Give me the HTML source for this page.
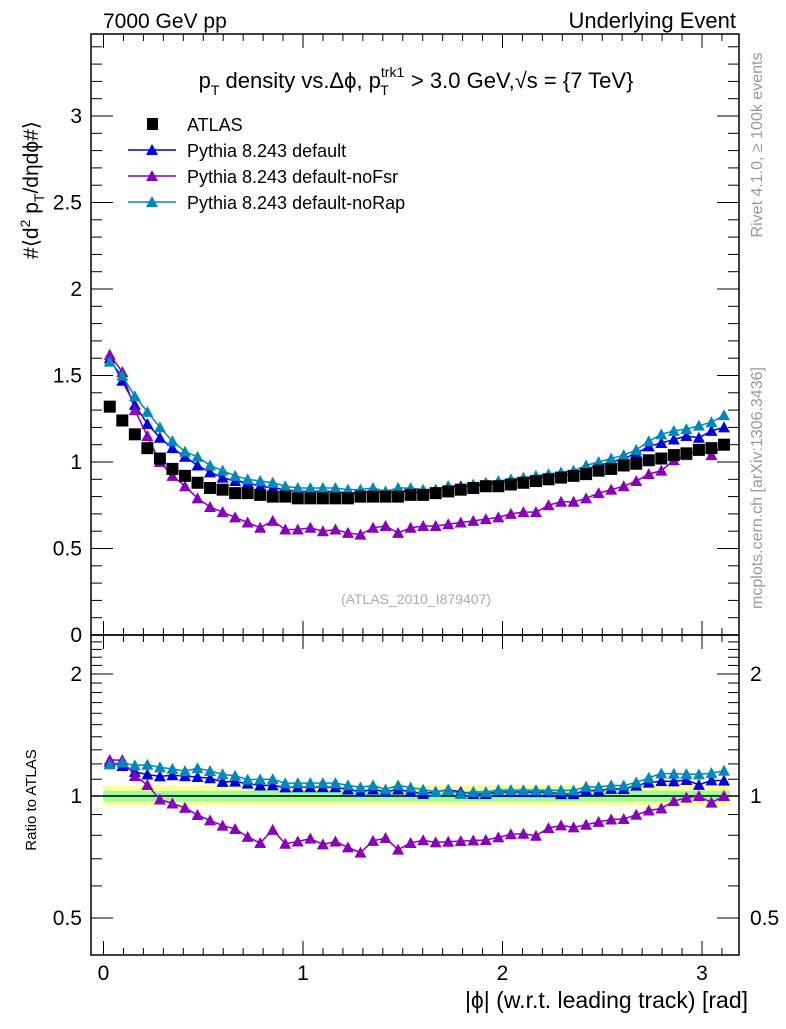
<!DOCTYPE html>
<html><head><meta charset="utf-8"><style>
body{margin:0;background:#fff;}
svg{font-family:"Liberation Sans",sans-serif;}
</style></head><body>
<svg id="c" width="786" height="1024" viewBox="0 0 786 1024" xmlns="http://www.w3.org/2000/svg">
<text x="103" y="28" font-size="21">7000 GeV pp</text>
<text x="736" y="28" font-size="22" text-anchor="end">Underlying Event</text>
<text x="416" y="88" font-size="22" text-anchor="middle">p<tspan font-size="14" dy="7">T</tspan><tspan dy="-7"> density vs.Δϕ, p</tspan><tspan font-size="14" dy="-11">trk1</tspan><tspan font-size="14" dx="-24" dy="18">T</tspan><tspan dx="16" dy="-7"> &gt; 3.0 GeV,√s = {7 TeV}</tspan></text>
<text transform="translate(38,190) rotate(-90)" font-size="21" text-anchor="middle">#⟨d<tspan font-size="14" dy="-8">2</tspan><tspan dy="8"> p</tspan><tspan font-size="14" dy="6">T</tspan><tspan dy="-6">/dηdϕ#⟩</tspan></text>
<text transform="translate(762,145) rotate(-90)" font-size="16" fill="#999" text-anchor="middle">Rivet 4.1.0, ≥ 100k events</text>
<text transform="translate(762,488) rotate(-90)" font-size="16" fill="#999" text-anchor="middle">mcplots.cern.ch [arXiv:1306.3436]</text>
<text x="416" y="604" font-size="14" fill="#aaa" text-anchor="middle">(ATLAS_2010_I879407)</text>
<text transform="translate(36,800) rotate(-90)" font-size="15" text-anchor="middle">Ratio to ATLAS</text>
<text x="748" y="1008" font-size="23" text-anchor="end">|ϕ| (w.r.t. leading track) [rad]</text>
<g id="g"></g>
</svg>
<script>
const atlas=[1.32,1.24,1.16,1.08,1.02,0.96,0.92,0.88,0.85,0.84,0.82,0.82,0.81,0.80,0.80,0.79,0.79,0.79,0.79,0.79,0.80,0.80,0.80,0.80,0.81,0.81,0.82,0.83,0.84,0.85,0.86,0.86,0.87,0.88,0.89,0.90,0.91,0.92,0.93,0.95,0.96,0.98,0.99,1.01,1.02,1.04,1.05,1.07,1.08,1.10];
const pyDefault=[1.60,1.47,1.33,1.22,1.14,1.08,1.03,0.98,0.94,0.91,0.89,0.88,0.86,0.85,0.84,0.83,0.83,0.83,0.83,0.82,0.82,0.83,0.82,0.83,0.83,0.82,0.84,0.86,0.86,0.86,0.87,0.88,0.89,0.90,0.91,0.92,0.92,0.93,0.96,0.98,1.00,1.02,1.05,1.09,1.11,1.13,1.15,1.14,1.18,1.20];
const pyNoFsr=[1.62,1.52,1.30,1.15,1.00,0.92,0.86,0.79,0.74,0.71,0.68,0.65,0.62,0.66,0.61,0.61,0.62,0.60,0.61,0.59,0.58,0.62,0.63,0.59,0.62,0.63,0.63,0.64,0.65,0.66,0.67,0.68,0.70,0.71,0.71,0.75,0.77,0.77,0.79,0.82,0.84,0.86,0.89,0.93,0.95,1.01,1.04,1.07,1.04,1.10];
const pyNoRap=[1.58,1.50,1.38,1.29,1.20,1.12,1.06,1.03,0.98,0.95,0.92,0.90,0.89,0.88,0.86,0.85,0.85,0.85,0.85,0.84,0.84,0.85,0.83,0.85,0.85,0.84,0.84,0.86,0.85,0.87,0.88,0.89,0.90,0.91,0.92,0.93,0.94,0.95,0.98,1.00,1.02,1.04,1.07,1.12,1.16,1.18,1.19,1.21,1.23,1.27];
const mainTicks=[0,0.5,1,1.5,2,2.5,3];
const ratioTicks=[0.5,1,2];
const xTicks=[0,1,2,3];
const NS="http://www.w3.org/2000/svg",g=document.getElementById('g');
const L=91,R=739,MT=34,MB=635,RB=955;
const X=v=>103.5+199.5*v, Y=v=>635-173*v, YR=v=>796-122*Math.log2(v);
function el(t,a,p){const e=document.createElementNS(NS,t);for(const k in a)e.setAttribute(k,a[k]);(p||g).appendChild(e);return e;}
const n=atlas.length, xs=atlas.map((_,i)=>(i+0.5)*Math.PI/n);
let b=el('rect',{x:L+12,y:YR(1.06),width:X(Math.PI)-L-12,height:YR(0.95)-YR(1.06),fill:'#ffff99'});

b=el('rect',{x:L+12,y:YR(1.03),width:X(Math.PI)-L-12,height:YR(0.97)-YR(1.03),fill:'#99ff99'});

let ln=el('line',{x1:L,x2:R,y1:YR(1),y2:YR(1),stroke:'#000','stroke-width':1.5});

let f=el('rect',{x:L,y:MT,width:R-L,height:MB-MT,fill:'none',stroke:'#000','stroke-width':1.5});

f=el('rect',{x:L,y:MB,width:R-L,height:RB-MB,fill:'none',stroke:'#000','stroke-width':1.5});

for(let v=0;v<=3.15;v+=0.1){const big=Math.abs(v-Math.round(v))<1e-6,len=big?14:7,x=X(v);
for(const [y0,d] of [[MT,1],[MB,-1],[MB,1],[RB,-1]])el('line',{x1:x,x2:x,y1:y0,y2:y0+d*len,stroke:'#000'});}
xTicks.forEach(v=>{const t=el('text',{x:X(v),y:980,'font-size':21,'text-anchor':'middle'});t.textContent=v;
});
for(let v=0;v<=3.45;v+=0.1){const big=Math.abs(v*2-Math.round(v*2))<1e-6,len=big?22:11,y=Y(v);
el('line',{x1:L,x2:L+len,y1:y,y2:y,stroke:'#000'});el('line',{x1:R,x2:R-len,y1:y,y2:y,stroke:'#000'});}
mainTicks.forEach(v=>{const t=el('text',{x:82,y:Y(v)+7,'font-size':21,'text-anchor':'end'});t.textContent=v;
});
[0.5,0.6,0.7,0.8,0.9,1,2].forEach(v=>{const big=ratioTicks.includes(v),len=big?22:11,y=YR(v);
el('line',{x1:L,x2:L+len,y1:y,y2:y,stroke:'#000'});el('line',{x1:R,x2:R-len,y1:y,y2:y,stroke:'#000'});});
for(let v=1.1;v<2.5;v+=0.1){const y=YR(v);el('line',{x1:L,x2:L+11,y1:y,y2:y,stroke:'#000'});el('line',{x1:R,x2:R-11,y1:y,y2:y,stroke:'#000'});}
ratioTicks.forEach(v=>{for(const [x,a] of [[82,'end'],[750,'start']]){const t=el('text',{x:x,y:YR(v)+7,'font-size':21,'text-anchor':a});t.textContent=v;
}});
function tri(x,y,c,name){const p=el('polygon',{points:`${x-6},${y+5} ${x+6},${y+5} ${x},${y-6}`,fill:c});
}
const series=[[pyDefault,'#0000dd','default'],[pyNoFsr,'#8800bb','nofsr'],[pyNoRap,'#0088bb','norap']];
series.forEach(([d,c,nm])=>{
 let pl=el('polyline',{points:d.map((v,i)=>X(xs[i])+','+Y(v)).join(' '),fill:'none',stroke:c,'stroke-width':1.5});
 
 d.forEach((v,i)=>tri(X(xs[i]),Y(v),c,'point-'+nm));
 pl=el('polyline',{points:d.map((v,i)=>X(xs[i])+','+YR(v/atlas[i])).join(' '),fill:'none',stroke:c,'stroke-width':1.5});
 
 d.forEach((v,i)=>tri(X(xs[i]),YR(v/atlas[i]),c,'ratio-point-'+nm));
});
atlas.forEach((v,i)=>{const r=el('rect',{x:X(xs[i])-6,y:Y(v)-6,width:12,height:12,fill:'#000'});
});
const leg=[['ATLAS','#000',null],['Pythia 8.243 default','#0000dd',1],['Pythia 8.243 default-noFsr','#8800bb',1],['Pythia 8.243 default-noRap','#0088bb',1]];
leg.forEach(([t,c,isLine],i)=>{const y=124+26*i;
 if(isLine){el('line',{x1:128,x2:176,y1:y,y2:y,stroke:c,'stroke-width':1.5});tri(152,y,c,'legend-marker');}
 else{const r=el('rect',{x:147,y:y-6,width:11,height:12,fill:'#000'});}
 const tx=el('text',{x:187,y:y+7,'font-size':18});tx.textContent=t;
 });
</script>
</body></html>
